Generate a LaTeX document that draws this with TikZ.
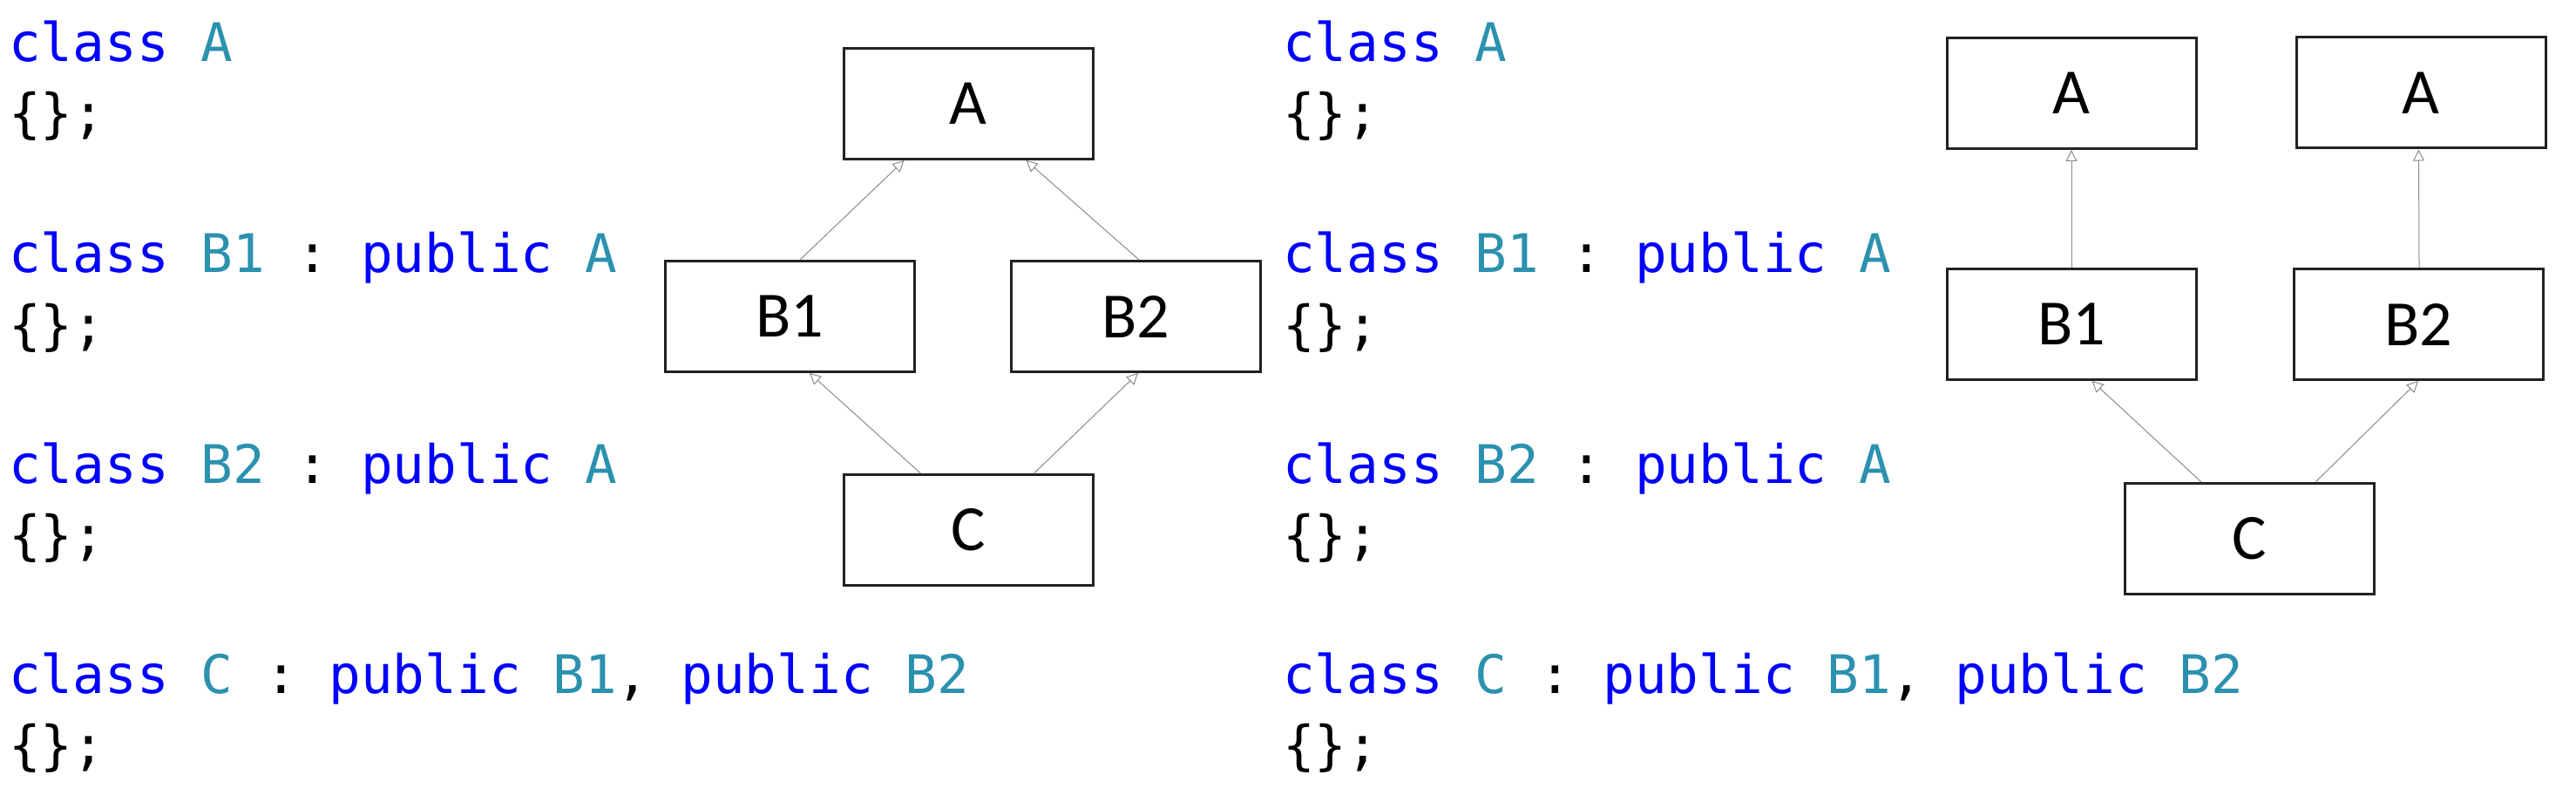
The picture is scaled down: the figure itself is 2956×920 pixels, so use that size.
\documentclass[tikz,border=0pt]{standalone}
\usepackage{fontspec}
\setmainfont{Carlito}
\setmonofont{DejaVu Sans Mono}
\usetikzlibrary{arrows.meta}
\definecolor{kwblue}{HTML}{0000FF}
\definecolor{tyteal}{HTML}{2B91AF}
\definecolor{boxline}{HTML}{222222}
\definecolor{arrgray}{HTML}{8A8A8A}
\newcommand\kwd[1]{\textcolor{kwblue}{#1}}
\newcommand\tyn[1]{\textcolor{tyteal}{#1}}
\tikzset{
  codeline/.style={anchor=base west, inner sep=0pt, font=\ttfamily\fontsize{61}{70}\selectfont, text=black},
  classbox/.style={draw=boxline, line width=3pt, minimum width=286pt, minimum height=127pt, inner sep=0pt, font=\fontsize{74}{80}\selectfont},
  inh/.style={draw=arrgray, line width=1pt, -{Triangle[open, length=13pt, width=13pt, line width=1pt]}}
}
\begin{document}
\begin{tikzpicture}[x=1pt, y=-1pt]
\useasboundingbox (0,0) rectangle (2956,920);
% ---------- left code ----------
\node[codeline] (l1) at (10,71) {\kwd{class} \tyn{A}};
\node[codeline] (l2) at (10,152) {\{\};};
\node[codeline] (l3) at (10,312) {\kwd{class} \tyn{B1} : \kwd{public} \tyn{A}};
\node[codeline] (l4) at (10,394) {\{\};};
\node[codeline] (l5) at (10,554) {\kwd{class} \tyn{B2} : \kwd{public} \tyn{A}};
\node[codeline] (l6) at (10,635) {\{\};};
\node[codeline] (l7) at (10,795) {\kwd{class} \tyn{C} : \kwd{public} \tyn{B1}, \kwd{public} \tyn{B2}};
\node[codeline] (l8) at (10,876) {\{\};};
% ---------- right code ----------
\node[codeline] (r1) at (1472,71) {\kwd{class} \tyn{A}};
\node[codeline] (r2) at (1472,152) {\{\};};
\node[codeline] (r3) at (1472,312) {\kwd{class} \tyn{B1} : \kwd{public} \tyn{A}};
\node[codeline] (r4) at (1472,394) {\{\};};
\node[codeline] (r5) at (1472,554) {\kwd{class} \tyn{B2} : \kwd{public} \tyn{A}};
\node[codeline] (r6) at (1472,635) {\{\};};
\node[codeline] (r7) at (1472,795) {\kwd{class} \tyn{C} : \kwd{public} \tyn{B1}, \kwd{public} \tyn{B2}};
\node[codeline] (r8) at (1472,876) {\{\};};
% ---------- left diagram ----------
\node[classbox] (AL) at (1111,119) {A};
\node[classbox] (B1L) at (906.5,363) {B1};
\node[classbox] (B2L) at (1303.5,363) {B2};
\node[classbox] (CL) at (1111,608) {C};
\draw[inh] ([xshift=156pt]B1L.north west) -- ([xshift=71pt]AL.south west);
\draw[inh] ([xshift=148pt]B2L.north west) -- ([xshift=211pt]AL.south west);
\draw[inh] ([xshift=90pt]CL.north west) -- ([xshift=167pt]B1L.south west);
\draw[inh] ([xshift=220pt]CL.north west) -- ([xshift=147pt]B2L.south west);
% ---------- right diagram ----------
\node[classbox] (A1R) at (2377,107) {A};
\node[classbox] (A2R) at (2778,106.5) {A};
\node[classbox] (B1R) at (2377,372) {B1};
\node[classbox] (B2R) at (2775.5,372) {B2};
\node[classbox] (CR) at (2581.5,618) {C};
\draw[inh] (B1R.north) -- (A1R.south);
\draw[inh] ([xshift=145pt]B2R.north west) -- ([xshift=142pt]A2R.south west);
\draw[inh] ([xshift=89pt]CR.north west) -- ([xshift=168pt]B1R.south west);
\draw[inh] ([xshift=220pt]CR.north west) -- ([xshift=144pt]B2R.south west);
\end{tikzpicture}
\end{document}
